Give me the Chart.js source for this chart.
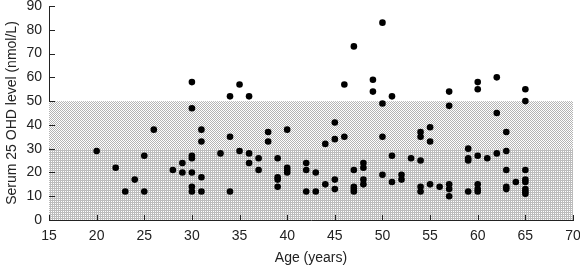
<!DOCTYPE html>
<html>
<head>
<meta charset="utf-8">
<script src="https://cdn.jsdelivr.net/npm/chart.js@4"></script>
<style>
  html, body { margin: 0; padding: 0; background: #fff; }
  #wrap { width: 580px; height: 271px; }
</style>
</head>
<body>
<div id="wrap"><canvas id="myChart"></canvas></div>
<script>
// age (years) and serum 25 OHD (nmol/L), one entry per subject
const ages = [
    20, 22, 23, 24, 25, 25, 26, 28, 29, 29,
    30, 30, 30, 30, 30, 30, 30, 31, 31, 31, 31,
    33, 34, 34, 34, 35, 35, 36, 36, 36, 37, 37, 38, 38,
    39, 39, 39, 39, 40, 40, 40, 40, 42, 42, 42, 43, 43, 44, 44,
    45, 45, 45, 45, 46, 46, 47, 47, 47, 47, 47, 48, 48, 48, 48,
    49, 49, 50, 50, 50, 50, 51, 51, 51, 52, 52, 53,
    54, 54, 54, 54, 54, 55, 55, 55, 56, 57, 57, 57, 57, 57,
    59, 59, 59, 59, 60, 60, 60, 60, 60, 60, 61, 62, 62, 62,
    63, 63, 63, 63, 63, 64, 65, 65, 65, 65, 65, 65, 65, 65
];
const levels = [
    29, 22, 12, 17, 27, 12, 38, 21, 24, 20,
    58, 47, 27, 26, 20, 14, 12, 38, 33, 18, 12,
    28, 52, 35, 12, 57, 29, 52, 28, 24, 26, 21, 37, 33,
    26, 18, 17, 14, 38, 22, 21, 20, 24, 21, 12, 20, 12, 32, 15,
    41, 34, 17, 13, 57, 35, 73, 21, 14, 13, 12, 24, 22, 17, 15,
    59, 54, 83, 49, 35, 19, 52, 27, 16, 19, 17, 26,
    37, 35, 25, 14, 12, 39, 33, 15, 14, 54, 48, 15, 13, 10,
    30, 26, 25, 12, 58, 55, 27, 15, 13, 12, 26, 60, 45, 28,
    37, 29, 21, 14, 13, 16, 55, 50, 21, 17, 16, 13, 12, 11
];
// shaded reference ranges
const bandLow = [0, 30];
const bandHigh = [30, 50];
const xTicks = [15, 20, 25, 30, 35, 40, 45, 50, 55, 60, 65, 70];
const yTicks = [0, 10, 20, 30, 40, 50, 60, 70, 80, 90];

const points = ages.map((a, i) => ({ x: a, y: levels[i] }));

function makePattern(cells, gray) {
    const c = document.createElement('canvas');
    c.width = 2; c.height = 2;
    const g = c.getContext('2d');
    g.fillStyle = '#fff';
    g.fillRect(0, 0, 2, 2);
    g.fillStyle = gray;
    cells.forEach(p => g.fillRect(p[0], p[1], 1, 1));
    return g.createPattern(c, 'repeat');
}

const bands = {
    id: 'bands',
    beforeDatasetsDraw(chart) {
        const c = chart.ctx, x = chart.scales.x, y = chart.scales.y;
        const left = x.getPixelForValue(15), right = x.getPixelForValue(70);
        const hi = makePattern([[0, 0], [1, 1]], '#b4b4b4');
        const lo = makePattern([[0, 0], [1, 0], [0, 1]], '#bcbcbc');
        c.save();
        c.fillStyle = hi;
        let t = y.getPixelForValue(bandHigh[1]), b = y.getPixelForValue(bandHigh[0]);
        c.fillRect(left, t, right - left, b - t);
        c.fillStyle = lo;
        t = y.getPixelForValue(bandLow[1]); b = y.getPixelForValue(bandLow[0]);
        c.fillRect(left, t, right - left, b - t);
        c.restore();
    },
    afterDatasetsDraw(chart) {
        // inward tick marks
        const c = chart.ctx, x = chart.scales.x, y = chart.scales.y;
        c.save();
        c.strokeStyle = '#222';
        c.lineWidth = 1;
        c.beginPath();
        xTicks.forEach(v => {
            const px = Math.round(x.getPixelForValue(v)) + 0.5;
            c.moveTo(px, y.bottom);
            c.lineTo(px, y.bottom - 5);
        });
        yTicks.forEach(v => {
            const py = Math.round(y.getPixelForValue(v)) + 0.5;
            c.moveTo(x.left, py);
            c.lineTo(x.left + 6, py);
        });
        c.stroke();
        c.restore();
    }
};

const ctx = document.getElementById('myChart');
const font = { family: 'Liberation Sans, Arial, sans-serif', size: 14 };

new Chart(ctx, {
    type: 'scatter',
    data: {
        datasets: [{
            data: points,
            backgroundColor: '#000',
            borderColor: '#000',
            borderWidth: 0,
            pointRadius: 3.3,
            pointHoverRadius: 3.3,
        }],
    },
    options: {
        responsive: true,
        maintainAspectRatio: false,
        animation: false,
        layout: { padding: { top: 6, right: 7, left: 0, bottom: 0 } },
        plugins: { legend: { display: false }, tooltip: { enabled: false } },
        scales: {
            x: {
                type: 'linear',
                min: 15, max: 70,
                afterBuildTicks: s => { s.ticks = xTicks.map(v => ({ value: v })); },
                afterFit: s => { s.height = 51; s.paddingLeft = 0; s.paddingRight = 0; },
                grid: { display: false, drawTicks: false },
                border: { color: '#222', width: 1 },
                ticks: { color: '#222', font: font, padding: 8, maxRotation: 0 },
                title: { display: true, text: 'Age (years)', color: '#222', font: font, padding: { top: 4 } },
            },
            y: {
                min: 0, max: 90,
                afterBuildTicks: s => { s.ticks = yTicks.map(v => ({ value: v })); },
                afterFit: s => { s.width = 49; s.paddingTop = 0; s.paddingBottom = 0; },
                grid: { display: false, drawTicks: false },
                border: { color: '#222', width: 1 },
                ticks: { color: '#222', font: font, padding: 7 },
                title: { display: true, text: 'Serum 25 OHD level (nmol/L)', color: '#222', font: font, padding: { bottom: 2 } },
            },
        },
    },
    plugins: [bands],
});
</script>
</body>
</html>
